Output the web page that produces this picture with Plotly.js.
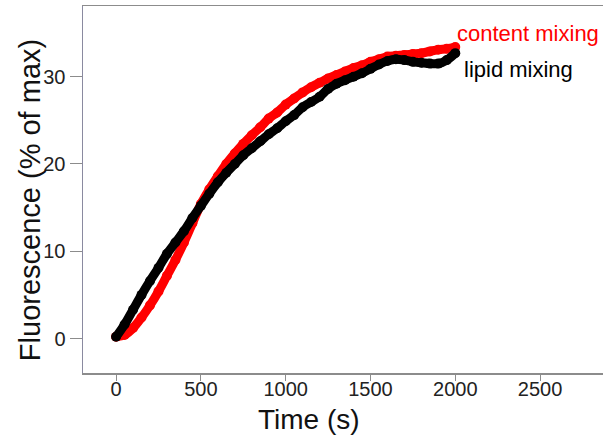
<!DOCTYPE html>
<html>
<head>
<meta charset="utf-8">
<script src="https://cdn.plot.ly/plotly-3.0.1.min.js"></script>
<style>
html,body{margin:0;padding:0;background:#fff;}
#chart{width:603px;height:439px;}
</style>
</head>
<body>
<div id="chart"></div>
<script>
const time = [0,50,100,150,200,250,300,350,400,450,500,550,600,650,700,750,800,850,900,950,1000,1050,1100,1150,1200,1250,1300,1350,1400,1450,1500,1550,1600,1650,1700,1750,1800,1850,1900,1950,2000];
const lipidMixing = [0.2,1.6,3.3,5.0,6.6,8.1,9.7,11.0,12.3,13.8,15.2,16.6,17.9,19.0,20.0,21.0,21.8,22.6,23.4,24.1,24.9,25.6,26.5,27.1,27.7,28.6,29.2,29.6,30.0,30.4,30.9,31.4,31.8,32.0,31.9,31.7,31.6,31.5,31.5,31.9,32.7];
const contentMixing = [0.2,0.4,1.2,2.4,3.8,5.4,7.2,9.0,11.0,13.2,15.4,17.1,18.6,20.0,21.2,22.3,23.3,24.2,25.2,25.9,26.8,27.5,28.2,28.8,29.3,29.8,30.2,30.6,31.0,31.3,31.7,32.0,32.3,32.4,32.5,32.6,32.7,32.9,33.1,33.2,33.4];
const xTicks = [0,500,1000,1500,2000,2500];
const yTicks = [0,10,20,30];
const seriesNames = ["content mixing","lipid mixing"];

const font = "Arial, 'Liberation Sans', sans-serif";

const traces = [
  {x: time, y: contentMixing, name: seriesNames[0], mode: "lines+markers",
   line: {color: "#ff0000", width: 9, shape: "spline"},
   marker: {color: "#ff0000", size: 10}},
  {x: time, y: lipidMixing, name: seriesNames[1], mode: "lines+markers",
   line: {color: "#000000", width: 9, shape: "spline"},
   marker: {color: "#000000", size: 10}}
];

const layout = {
  width: 603, height: 439,
  margin: {l: 83, r: 0, t: 6, b: 66},
  paper_bgcolor: "#fff", plot_bgcolor: "#fff",
  showlegend: false,
  font: {family: font, color: "#222"},
  xaxis: {
    range: [-195, 2871], tickvals: xTicks, ticktext: xTicks.map(String),
    showgrid: false, zeroline: false,
    showline: true, mirror: true, linecolor: "#8c8c8c", linewidth: 1.5,
    ticks: "outside", ticklen: 6, tickcolor: "#8c8c8c", tickwidth: 1,
    ticklabelstandoff: -9,
    tickfont: {size: 20, color: "#222", family: font}
  },
  yaxis: {
    range: [-3.95, 38.1], tickvals: yTicks, ticktext: yTicks.map(String),
    showgrid: false, zeroline: false,
    showline: true, mirror: false, linecolor: "#8a8aa0", linewidth: 1.5,
    ticks: "outside", ticklen: 12, tickcolor: "#8c8c8c", tickwidth: 1,
    tickfont: {size: 20, color: "#222", family: font}
  },
  annotations: [
    {xref: "x", yref: "y", x: 1999, y: 35.0, xanchor: "left", yanchor: "middle",
     text: seriesNames[0], showarrow: false, font: {size: 22, color: "#ff0000", family: font}},
    {xref: "x", yref: "y", x: 2040, y: 30.8, xanchor: "left", yanchor: "middle",
     text: seriesNames[1], showarrow: false, font: {size: 22, color: "#000", family: font}},
    {xref: "paper", yref: "paper", x: (309-83)/520, y: -(419-372.7)/366.7, xanchor: "center", yanchor: "middle",
     text: "Time (s)", showarrow: false, font: {size: 28, color: "#111", family: font}},
    {xref: "paper", yref: "paper", x: -(83-30)/520, y: (372.7-200)/366.7, xanchor: "center", yanchor: "middle",
     text: "Fluorescence (% of max)", textangle: -90, showarrow: false, font: {size: 29, color: "#111", family: font}}
  ]
};

Plotly.newPlot("chart", traces, layout, {displayModeBar: false, staticPlot: true});
</script>
</body>
</html>
